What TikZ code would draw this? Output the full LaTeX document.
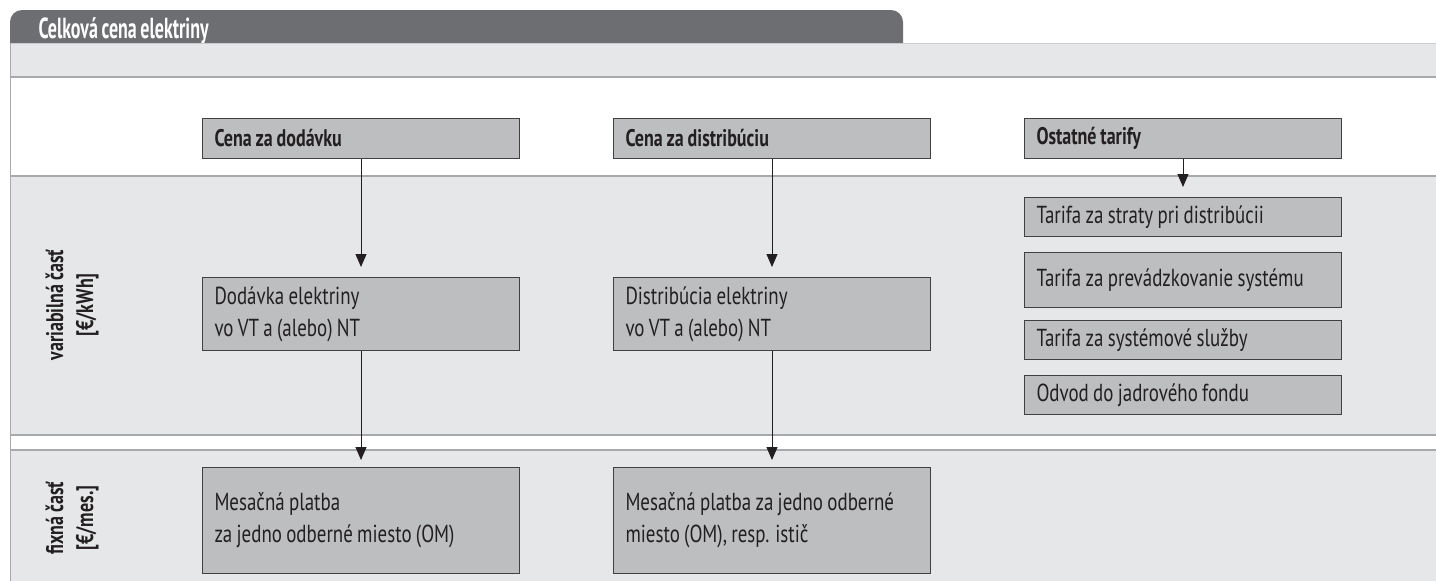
\documentclass[tikz,border=0pt]{standalone}
\usepackage{fontspec}
\setmainfont{PT Sans}[FakeStretch=0.77, WordSpace=0.85, BoldFeatures={FakeStretch=0.75, WordSpace=0.85}]
\newfontfamily\titlefont{PT Sans}[FakeStretch=0.62, WordSpace=0.8, BoldFeatures={FakeStretch=0.62, WordSpace=0.8}]
\usetikzlibrary{arrows.meta}
\definecolor{tabgray}{HTML}{6D6E71}
\definecolor{bandgray}{HTML}{E6E7E8}
\definecolor{linegray}{HTML}{A7A9AC}
\definecolor{boxfill}{HTML}{BCBEC0}
\definecolor{boxline}{HTML}{414042}
\definecolor{txt}{HTML}{231F20}
\begin{document}
\begin{tikzpicture}[x=1pt,y=-1pt,
  box/.style={draw=boxline, fill=boxfill, line width=1pt, anchor=north west,
    inner xsep=12pt, inner ysep=0pt, align=flush left, text=txt,
    text width=293pt, minimum width=317pt,
    font=\fontsize{24.6}{32}\selectfont},
  headbox/.style={box, minimum height=40pt, font=\fontsize{24}{32}\selectfont\bfseries},
  arr/.style={-{Triangle[width=11pt,length=13pt]}, line width=1pt, draw=txt},
  sidelabel/.style={rotate=90, align=center, text=txt,
    font=\fontsize{24}{30}\selectfont\bfseries}
]
\useasboundingbox (0,0) rectangle (1436,581);
% header tab
\fill[tabgray] (10,43) -- (10,22) arc[start angle=180, end angle=90, radius=12pt]
  -- (891,10) arc[start angle=90, end angle=0, radius=12pt] -- (903,43) -- cycle;
\node[anchor=base west, text=white, font=\fontsize{29}{30}\titlefont\bfseries] (title) at (35,38) {Celková cena elektriny};
% band
\fill[bandgray] (10,43) rectangle (1436,77);
\draw[linegray!60, line width=1pt] (10,43) -- (1436,43);
\draw[linegray, line width=1.3pt] (10,77) -- (1436,77);
% regions
\fill[bandgray] (10,176) rectangle (1436,435);
\fill[bandgray] (10,450) rectangle (1436,581);
\draw[linegray, line width=1.3pt] (10,176) -- (1436,176);
\draw[linegray, line width=1.3pt] (10,435) -- (1436,435);
\draw[linegray, line width=1.3pt] (10,450) -- (1436,450);
\draw[linegray, line width=1pt] (10,43) -- (10,581);
% side labels
\node[sidelabel] (var) at (72,305) {variabilná časť\\{}[€/kWh]};
\node[sidelabel] (fix) at (72,518) {fixná časť\\{}[€/mes.]};
% head boxes
\node[headbox] (b1) at (202,118) {Cena za dodávku};
\node[headbox] (b2) at (613,118) {Cena za distribúciu};
\node[headbox] (b3) at (1024,118) {Ostatné tarify};
% variable boxes
\node[box, minimum height=73pt] (v1) at (202,277) {Dodávka elektriny\\vo VT a (alebo) NT};
\node[box, minimum height=73pt] (v2) at (613,277) {Distribúcia elektriny\\vo VT a (alebo) NT};
% fixed boxes
\node[box, minimum height=106pt] (f1) at (202,467) {Mesačná platba\\za jedno odberné miesto (OM)};
\node[box, minimum height=106pt] (f2) at (613,467) {Mesačná platba za jedno odberné\\miesto (OM), resp. istič};
% other tariffs
\node[box, minimum height=39pt] (t1) at (1024,197) {Tarifa za straty pri distribúcii};
\node[box, minimum height=55pt] (t2) at (1024,252) {Tarifa za prevádzkovanie systému};
\node[box, minimum height=39pt] (t3) at (1024,320) {Tarifa za systémové služby};
\node[box, minimum height=39pt] (t4) at (1024,375) {Odvod do jadrového fondu};
% arrows
\draw[arr, shorten >=10pt] (b1.south) -- (v1.north);
\draw[arr, shorten >=10pt] (b2.south) -- (v2.north);
\draw[arr, shorten >=7pt] (v1.south) -- (f1.north);
\draw[arr, shorten >=7pt] (v2.south) -- (f2.north);
\draw[arr, shorten >=10pt] (b3.south) -- (t1.north);
\end{tikzpicture}
\end{document}
